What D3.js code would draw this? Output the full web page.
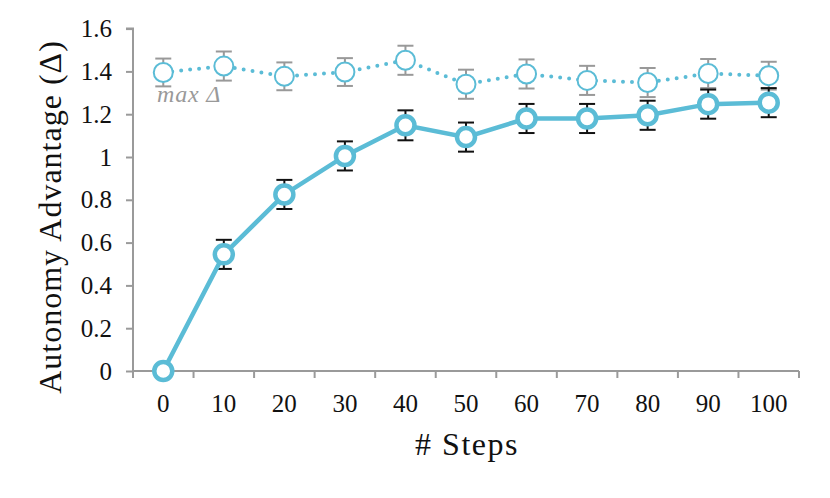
<!DOCTYPE html>
<html>
<head>
<meta charset="utf-8">
<script src="https://cdn.jsdelivr.net/npm/d3@7"></script>
<style>
  body { margin: 0; background: #fff; }
  text { font-family: "Liberation Serif", "DejaVu Serif", serif; }
</style>
</head>
<body>
<div id="chart"></div>
<script>
// chart data
const steps = [0, 10, 20, 30, 40, 50, 60, 70, 80, 90, 100];
const advantage = [0, 0.545, 0.825, 1.005, 1.148, 1.093, 1.18, 1.18, 1.195, 1.247, 1.254];
const advantageErr = [0, 0.068, 0.068, 0.068, 0.07, 0.068, 0.068, 0.068, 0.068, 0.068, 0.068];
const maxAdvantage = [1.395, 1.425, 1.377, 1.397, 1.452, 1.34, 1.388, 1.358, 1.348, 1.39, 1.38];
const maxErr = [0.065, 0.068, 0.065, 0.065, 0.068, 0.068, 0.068, 0.068, 0.068, 0.068, 0.065];
const yTicks = [0, 0.2, 0.4, 0.6, 0.8, 1, 1.2, 1.4, 1.6];

const w = 830, h = 498;
const mLeft = 133, mRight = 799, mTop = 28.6, mBottom = 371;
const color = '#5bbcd6';

const svg = d3.select('#chart').append('svg')
  .attr('width', w).attr('height', h);

const x = d3.scaleBand().domain(steps).range([mLeft, mRight]);
const y = d3.scaleLinear().domain([0, 1.6]).range([mBottom, mTop]);
const cx = (d) => x(d) + x.bandwidth() / 2;

// y axis
const yAxis = d3.axisLeft(y).tickValues(yTicks).tickSize(7).tickPadding(14)
  .tickFormat((d) => String(+d.toFixed(1)));
const gy = svg.append('g').attr('transform', `translate(${mLeft},0)`).call(yAxis);
gy.select('.domain').attr('d', `M-7,${mTop}H0V${mBottom}`);

// x axis
const xAxis = d3.axisBottom(x).tickSize(0).tickPadding(23);
const gx = svg.append('g').attr('transform', `translate(0,${mBottom})`).call(xAxis);
gx.select('.domain').attr('d', `M${mLeft},0H${mRight}`);
// tick marks between categories
gx.selectAll('line.sep')
  .data(d3.range(steps.length + 1))
  .enter().append('line')
  .attr('class', 'sep')
  .attr('x1', (i) => mLeft + i * x.step()).attr('x2', (i) => mLeft + i * x.step())
  .attr('y1', 0).attr('y2', 7);

svg.selectAll('.domain, .tick line, line.sep').attr('stroke', '#9a9a9a').attr('stroke-width', 2);
svg.selectAll('.tick text').attr('fill', '#111').attr('font-size', 25);

// axis titles
svg.append('text')
  .attr('transform', `translate(61,217) rotate(-90)`)
  .attr('text-anchor', 'middle').attr('font-size', 32).attr('letter-spacing', 1).attr('fill', '#111')
  .text('Autonomy Advantage (Δ)');
svg.append('text')
  .attr('x', 467).attr('y', 455)
  .attr('text-anchor', 'middle').attr('font-size', 32).attr('letter-spacing', 1.5).attr('fill', '#111')
  .text('# Steps');

// max series (dotted)
const line = (vals) => d3.line().x((d, i) => cx(steps[i])).y((d) => y(d))(vals);

svg.append('path')
  .attr('d', line(maxAdvantage))
  .attr('fill', 'none').attr('stroke', color).attr('stroke-width', 4)
  .attr('stroke-linecap', 'round').attr('stroke-dasharray', '0 9');

const errBars = (vals, errs, stroke) => {
  const g = svg.append('g').attr('stroke', stroke).attr('stroke-width', 2);
  vals.forEach((v, i) => {
    if (!errs[i]) return;
    const px = cx(steps[i]);
    g.append('line').attr('x1', px).attr('x2', px).attr('y1', y(v - errs[i])).attr('y2', y(v + errs[i]));
    g.append('line').attr('x1', px - 8).attr('x2', px + 8).attr('y1', y(v + errs[i])).attr('y2', y(v + errs[i]));
    g.append('line').attr('x1', px - 8).attr('x2', px + 8).attr('y1', y(v - errs[i])).attr('y2', y(v - errs[i]));
  });
};

errBars(maxAdvantage, maxErr, '#999');

svg.selectAll('circle.max')
  .data(maxAdvantage).enter().append('circle')
  .attr('class', 'max')
  .attr('cx', (d, i) => cx(steps[i])).attr('cy', (d) => y(d)).attr('r', 9.5)
  .attr('fill', '#fff').attr('stroke', color).attr('stroke-width', 2);

svg.append('text')
  .attr('x', 157).attr('y', 102)
  .attr('font-size', 24).attr('font-style', 'italic').attr('letter-spacing', 0.8).attr('fill', '#999')
  .text('max Δ');

// main series
errBars(advantage, advantageErr, '#111');

svg.append('path')
  .attr('d', line(advantage))
  .attr('fill', 'none').attr('stroke', color).attr('stroke-width', 4.5);

svg.selectAll('circle.main')
  .data(advantage).enter().append('circle')
  .attr('class', 'main')
  .attr('cx', (d, i) => cx(steps[i])).attr('cy', (d) => y(d)).attr('r', 9)
  .attr('fill', '#fff').attr('stroke', color).attr('stroke-width', 4.5);
</script>
</body>
</html>
